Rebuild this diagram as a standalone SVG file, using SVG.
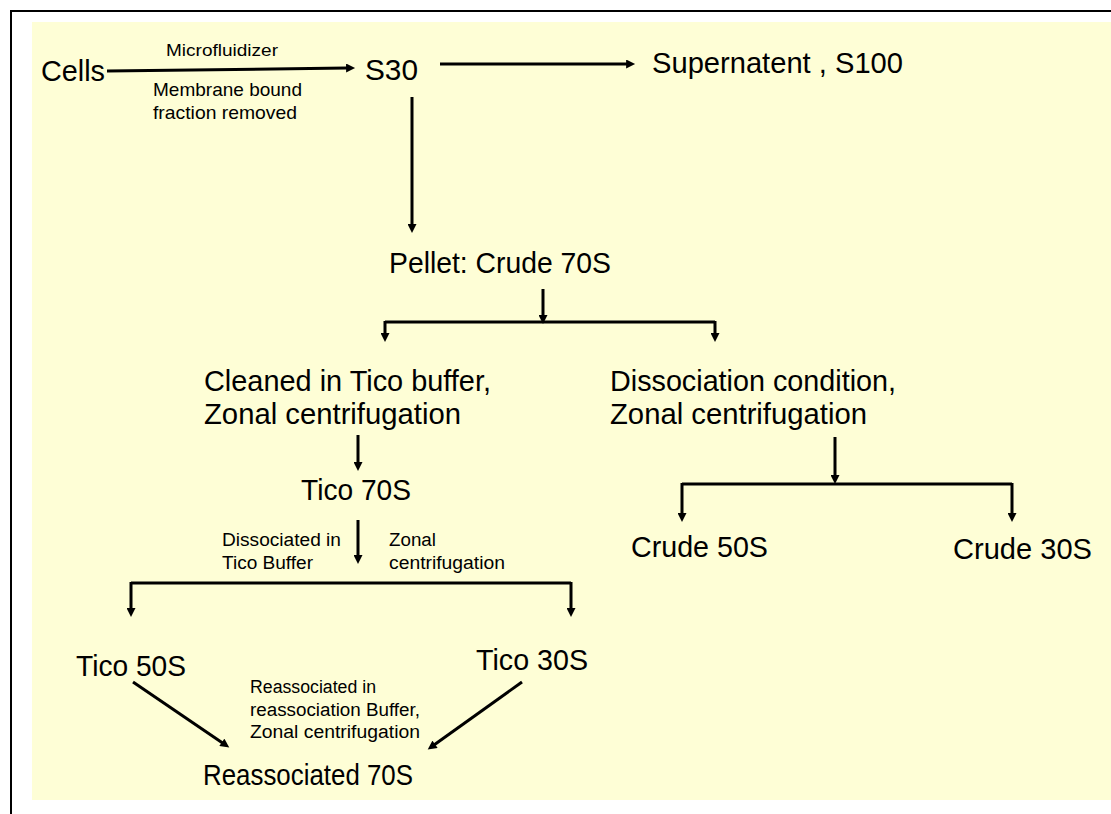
<svg xmlns="http://www.w3.org/2000/svg" width="1111" height="814" viewBox="0 0 1111 814">
<style>
text{font-family:"Liberation Sans",Arial,sans-serif;fill:#000}
.L{font-size:30px}
.S{font-size:18px}
.c{stroke:#000;stroke-width:3;fill:none}
.a{marker-end:url(#ah)}
</style>
<defs>
<marker id="ah" viewBox="0 0 10 10" refX="1" refY="5" markerWidth="10" markerHeight="9" orient="auto" markerUnits="userSpaceOnUse">
<path d="M0,0 L10,5 L0,10 z" fill="#000"/>
</marker>
</defs>
<rect x="0" y="0" width="1111" height="814" fill="#fff"/>
<rect x="32" y="22" width="1079" height="778" fill="#FEFED6"/>
<path d="M11,814 V11 H1111" fill="none" stroke="#000" stroke-width="2"/>
<g id="connectors">
<path class="c a" d="M107,71 L347,68" stroke-width="3.5"/>
<path class="c a" d="M440,64 L627,64" stroke-width="2.5"/>
<path class="c a" d="M412,97 L412,225"/>
<path class="c a" d="M543,289 L543,316"/>
<path class="c" d="M385,322 H715"/>
<path class="c a" d="M385,321 V334"/>
<path class="c a" d="M715,321 V334"/>
<path class="c a" d="M358,435 L358,463"/>
<path class="c a" d="M358,520 L358,556"/>
<path class="c" d="M131,583 H571"/>
<path class="c a" d="M131,582 V609"/>
<path class="c a" d="M571,582 V609"/>
<path class="c a" d="M835,437 L835,476"/>
<path class="c" d="M682,484 H1012"/>
<path class="c a" d="M682,483 V514"/>
<path class="c a" d="M1012,483 V514"/>
<path class="c a" d="M133,682 L222.6,742.9"/>
<path class="c a" d="M522,682 L434.3,744.8"/>
</g>
<g id="cells"><text class="L" x="41" y="81" textLength="64" lengthAdjust="spacingAndGlyphs">Cells</text></g>
<g id="label-micro">
<text x="166" y="56" font-size="17" textLength="112" lengthAdjust="spacingAndGlyphs">Microfluidizer</text>
<text x="153" y="96" font-size="19" textLength="149" lengthAdjust="spacingAndGlyphs">Membrane bound</text>
<text x="153" y="119" font-size="19" textLength="144" lengthAdjust="spacingAndGlyphs">fraction removed</text>
</g>
<g id="s30"><text class="L" x="365" y="80" textLength="53" lengthAdjust="spacingAndGlyphs">S30</text></g>
<g id="s100"><text class="L" x="652" y="73" textLength="251" lengthAdjust="spacingAndGlyphs">Supernatent , S100</text></g>
<g id="pellet"><text class="L" x="389" y="273" textLength="222" lengthAdjust="spacingAndGlyphs">Pellet: Crude 70S</text></g>
<g id="cleaned">
<text class="L" x="204" y="391" textLength="287" lengthAdjust="spacingAndGlyphs">Cleaned in Tico buffer,</text>
<text class="L" x="204" y="424" textLength="257" lengthAdjust="spacingAndGlyphs">Zonal centrifugation</text>
</g>
<g id="dissociation">
<text class="L" x="610" y="391" textLength="286" lengthAdjust="spacingAndGlyphs">Dissociation condition,</text>
<text class="L" x="610" y="424" textLength="257" lengthAdjust="spacingAndGlyphs">Zonal centrifugation</text>
</g>
<g id="tico70"><text class="L" x="301" y="500" textLength="110" lengthAdjust="spacingAndGlyphs">Tico 70S</text></g>
<g id="label-dissoc">
<text class="S" x="222" y="546" textLength="119" lengthAdjust="spacingAndGlyphs">Dissociated in</text>
<text class="S" x="222" y="569" textLength="91" lengthAdjust="spacingAndGlyphs">Tico Buffer</text>
<text class="S" x="389" y="546" textLength="47" lengthAdjust="spacingAndGlyphs">Zonal</text>
<text class="S" x="389" y="569" textLength="116" lengthAdjust="spacingAndGlyphs">centrifugation</text>
</g>
<g id="crude50"><text class="L" x="631" y="557" textLength="137" lengthAdjust="spacingAndGlyphs">Crude 50S</text></g>
<g id="crude30"><text class="L" x="953" y="559" textLength="139" lengthAdjust="spacingAndGlyphs">Crude 30S</text></g>
<g id="tico50"><text class="L" x="76" y="676" textLength="110" lengthAdjust="spacingAndGlyphs">Tico 50S</text></g>
<g id="tico30"><text class="L" x="476" y="670" textLength="112" lengthAdjust="spacingAndGlyphs">Tico 30S</text></g>
<g id="label-reassoc">
<text class="S" x="250" y="693" textLength="126" lengthAdjust="spacingAndGlyphs">Reassociated in</text>
<text class="S" x="250" y="716" textLength="170" lengthAdjust="spacingAndGlyphs">reassociation Buffer,</text>
<text class="S" x="250" y="738" textLength="170" lengthAdjust="spacingAndGlyphs">Zonal centrifugation</text>
</g>
<g id="reassoc70"><text class="L" x="203" y="785" textLength="210" lengthAdjust="spacingAndGlyphs">Reassociated 70S</text></g>
</svg>
